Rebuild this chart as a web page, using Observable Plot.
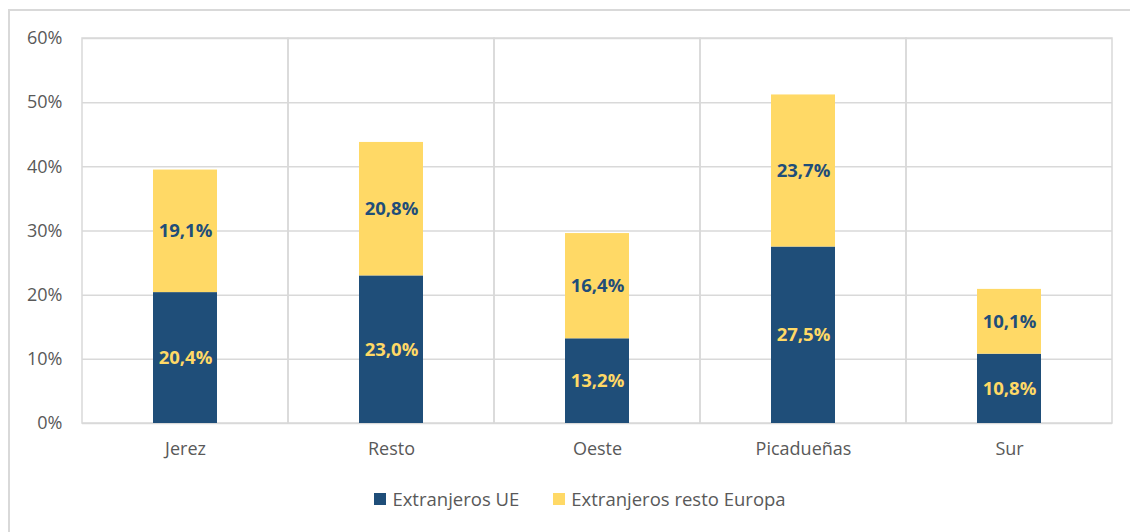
<!DOCTYPE html>
<html>
<head>
<meta charset="utf-8">
<script src="https://cdn.jsdelivr.net/npm/d3@7"></script>
<script src="https://cdn.jsdelivr.net/npm/@observablehq/plot@0.6"></script>
<style>
  html, body { margin: 0; padding: 0; background: #fff; overflow: hidden; }
  #wrap { position: relative; width: 1130px; height: 532px; font-family: "Open Sans", sans-serif; }
  #frame { position: absolute; left: 8px; top: 9px; width: 1200px; height: 600px; border: 2px solid #d9d9d9; box-sizing: border-box; }
  #chart { position: absolute; left: 0; top: 0; }
  #legend { position: absolute; left: 0; top: 486px; width: 1130px; display: flex; justify-content: center; gap: 34px; font-size: 18.5px; color: #595959; padding-left: 30px; box-sizing: border-box; }
  .item { display: flex; align-items: center; }
  .sw { width: 12px; height: 12px; margin-right: 6px; }
</style>
</head>
<body>
<div id="wrap">
  <div id="frame"></div>
  <div id="chart"></div>
  <div id="legend"></div>
</div>
<script>
const categories = ["Jerez", "Resto", "Oeste", "Picadueñas", "Sur"];
const seriesNames = ["Extranjeros UE", "Extranjeros resto Europa"];
const valuesUE = [20.4, 23.0, 13.2, 27.5, 10.8];
const valuesResto = [19.1, 20.8, 16.4, 23.7, 10.1];
const colors = ["#1f4e79", "#ffd966"];
const yTicks = [0, 10, 20, 30, 40, 50, 60];

const data = [];
categories.forEach((c, i) => {
  data.push({cat: c, series: seriesNames[0], v: valuesUE[i]});
  data.push({cat: c, series: seriesNames[1], v: valuesResto[i]});
});
const cells = categories.map(c => ({cat: c}));
const fmt = v => v.toFixed(1).replace(".", ",") + "%";

const labelMark = (k, color) => Plot.text(data, Plot.stackY({
  x: "cat", y: "v", z: "series", order: seriesNames,
  text: d => d.series === seriesNames[k] ? fmt(d.v) : null,
  fill: color, fontWeight: "bold", fontSize: 18.5
}));

const plot = Plot.plot({
  width: 1130,
  height: 470,
  marginLeft: 82,
  marginRight: 18,
  marginTop: 38,
  marginBottom: 47,
  style: {fontFamily: "Open Sans, sans-serif", fontSize: "18px", color: "#595959", background: "transparent"},
  x: {domain: categories, padding: 0, label: null},
  y: {domain: [0, 60], label: null},
  color: {domain: seriesNames, range: colors},
  marks: [
    Plot.gridY(yTicks, {stroke: "#d9d9d9", strokeOpacity: 1, strokeWidth: 1.5}),
    Plot.barY(cells, {x: "cat", y1: 0, y2: 60, fill: "none", stroke: "#d9d9d9", strokeWidth: 1.5}),
    Plot.barY(data, {x: "cat", y: "v", z: "series", fill: "series", insetLeft: 71, insetRight: 71, order: seriesNames}),
    labelMark(0, colors[1]),
    labelMark(1, colors[0]),
    Plot.axisY({ticks: yTicks, tickFormat: d => d + "%", tickSize: 0, tickPadding: 20, fill: "#595959", fontSize: 18}),
    Plot.axisX({tickSize: 0, tickPadding: 19, fill: "#595959", fontSize: 18})
  ]
});
document.getElementById("chart").appendChild(plot);

const legend = document.getElementById("legend");
seriesNames.forEach((s, i) => {
  const it = document.createElement("div");
  it.className = "item";
  it.innerHTML = `<span class="sw" style="background:${colors[i]}"></span><span>${s}</span>`;
  legend.appendChild(it);
});
</script>
</body>
</html>
